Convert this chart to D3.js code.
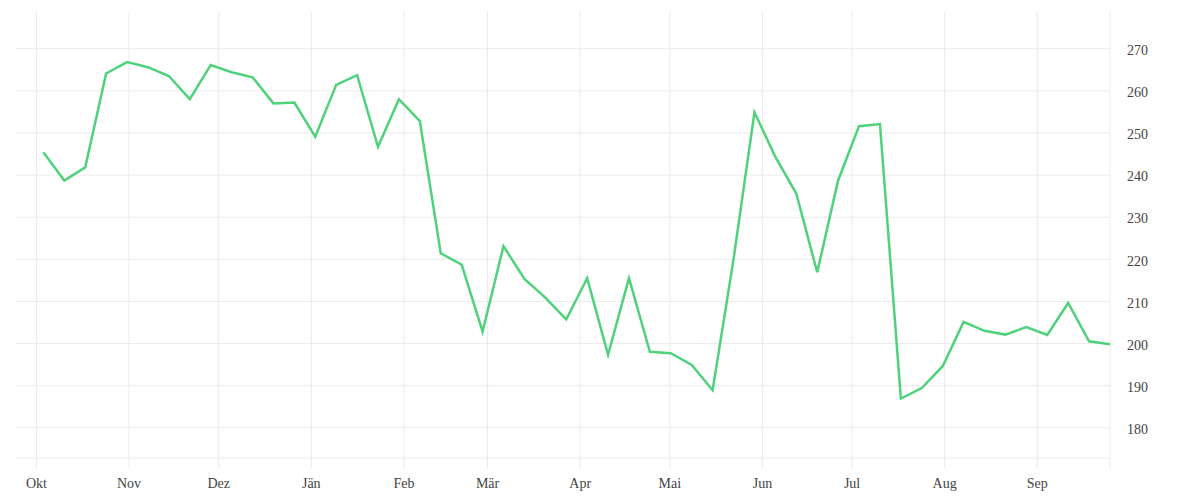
<!DOCTYPE html>
<html>
<head>
<meta charset="utf-8">
<script src="https://cdn.jsdelivr.net/npm/d3@7"></script>
<style>
  body { margin: 0; background: #fff; }
  svg text { font-family: "Liberation Serif", serif; font-size: 14px; fill: #444; }
</style>
</head>
<body>
<div id="chart"></div>
<script>
// weekly values, Oct 2018 - Sep 2019
const startDate = "2018-10-03T12:00:00";
const values = [
  245.3, 238.6, 241.7, 264.0, 266.7, 265.5, 263.4, 257.9, 266.0, 264.3,
  263.1, 256.9, 257.1, 249.0, 261.3, 263.6, 246.6, 257.9, 252.7, 221.3,
  218.6, 202.7, 223.0, 215.2, 210.8, 205.6, 215.4, 197.2, 215.4, 197.9,
  197.6, 194.8, 188.8, 219.9, 254.8, 244.2, 235.5, 216.8, 238.6, 251.5,
  252.0, 186.8, 189.3, 194.5, 205.0, 202.9, 202.0, 203.8, 201.9, 209.5,
  200.4, 199.7
];
const monthLabels = ["Okt", "Nov", "Dez", "Jän", "Feb", "Mär", "Apr", "Mai", "Jun", "Jul", "Aug", "Sep"];
const yTicks = [180, 190, 200, 210, 220, 230, 240, 250, 260, 270];

const w = 1200, h = 500;
const padL = 15, padR = 1110, padT = 12, padB = 458;

const t0 = new Date(startDate);
const dataset = values.map((v, i) => [d3.timeDay.offset(t0, i * 7), v]);
const monthTicks = d3.range(12).map(i => new Date(2018, 9 + i, 1));

const xScale = d3.scaleTime()
  .domain([new Date(2018, 8, 24), dataset[dataset.length - 1][0]])
  .range([padL, padR]);

const yScale = d3.scaleLinear()
  .domain([172.7, 278.6])
  .range([padB, padT]);

const svg = d3.select("#chart").append("svg")
  .attr("width", w)
  .attr("height", h);

// horizontal grid
svg.append("g")
  .attr("transform", "translate(" + padR + ",0)")
  .call(d3.axisRight(yScale).tickValues(yTicks).tickSize(-(padR - padL)).tickPadding(17))
  .call(g => g.select(".domain").remove())
  .call(g => g.selectAll(".tick line").attr("stroke", "#ebebeb"))
  .call(g => g.selectAll(".tick text").attr("dy", "0.45em"));

// vertical grid + month labels
svg.append("g")
  .attr("transform", "translate(0," + (h - 32) + ")")
  .call(d3.axisBottom(xScale).tickValues(monthTicks)
    .tickFormat((d, i) => monthLabels[i])
    .tickSize(-(h - 32 - padT)).tickPadding(10))
  .call(g => g.select(".domain").remove())
  .call(g => g.selectAll(".tick line").attr("stroke", "#ebebeb"));

// frame lines
svg.append("line")
  .attr("x1", padL).attr("x2", padR)
  .attr("y1", padB).attr("y2", padB)
  .attr("stroke", "#ebebeb");
svg.append("line")
  .attr("x1", padR).attr("x2", padR)
  .attr("y1", padT).attr("y2", h - 32)
  .attr("stroke", "#ebebeb");

svg.selectAll(".tick text").attr("fill", "#444").attr("font-family", "Liberation Serif").attr("font-size", 14);

// series line
const line = d3.line()
  .x(d => xScale(d[0]))
  .y(d => yScale(d[1]));

svg.append("path")
  .datum(dataset)
  .attr("d", line)
  .attr("fill", "none")
  .attr("stroke", "#4fd27b")
  .attr("stroke-width", 2.5)
  .attr("stroke-linejoin", "miter");
</script>
</body>
</html>
